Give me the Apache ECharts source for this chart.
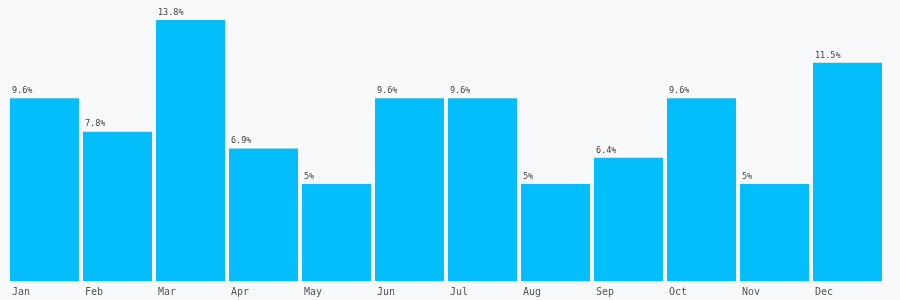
<!DOCTYPE html>
<html>
<head>
<meta charset="utf-8">
<script src="https://cdn.jsdelivr.net/npm/echarts@6/dist/echarts.min.js"></script>
<style>
  html, body { margin: 0; padding: 0; background: #f8f9fb; }
  #chart { width: 900px; height: 300px; }
</style>
</head>
<body>
<div id="chart"></div>
<script>
// 月份
var months = ['Jan', 'Feb', 'Mar', 'Apr', 'May', 'Jun', 'Jul', 'Aug', 'Sep', 'Oct', 'Nov', 'Dec'];
// 百分比
var shares = [9.6, 7.8, 13.8, 6.9, 5, 9.6, 9.6, 5, 6.4, 9.6, 5, 11.5];

var myChart = echarts.init(document.getElementById('chart'));
var barColor = '#04befc';
var option = {
    backgroundColor: '#f8f9fb',
    animation: false,
    grid: { left: 8, right: 16, top: 20, bottom: 23, containLabel: false },
    xAxis: {
        type: 'category',
        data: months,
        axisLine: { show: false },
        axisTick: { show: false },
        axisLabel: {
            margin: 10,
            color: '#555',
            fontFamily: 'DejaVu Sans Mono, monospace',
            fontSize: 10,
            formatter: function(v) {
                return '{a|' + v + '}';
            },
            rich: {
                a: {
                    width: 65,
                    align: 'left',
                    color: '#555',
                    fontFamily: 'DejaVu Sans Mono, monospace',
                    fontSize: 10
                }
            }
        }
    },
    yAxis: {
        type: 'value',
        min: 0,
        max: 'dataMax',
        show: false,
        splitLine: { show: false }
    },
    series: [{
        type: 'bar',
        data: shares,
        barWidth: 69,
        clip: false,
        itemStyle: {
            color: barColor,
            // 底部向下延伸 4px
            shadowColor: barColor,
            shadowBlur: 0,
            shadowOffsetY: 4
        },
        label: {
            show: true,
            position: [2, -3],
            align: 'left',
            verticalAlign: 'bottom',
            color: '#444',
            fontFamily: 'DejaVu Sans Mono, monospace',
            fontSize: 8.5,
            formatter: '{c}%'
        }
    }]
};
myChart.setOption(option);
</script>
</body>
</html>
